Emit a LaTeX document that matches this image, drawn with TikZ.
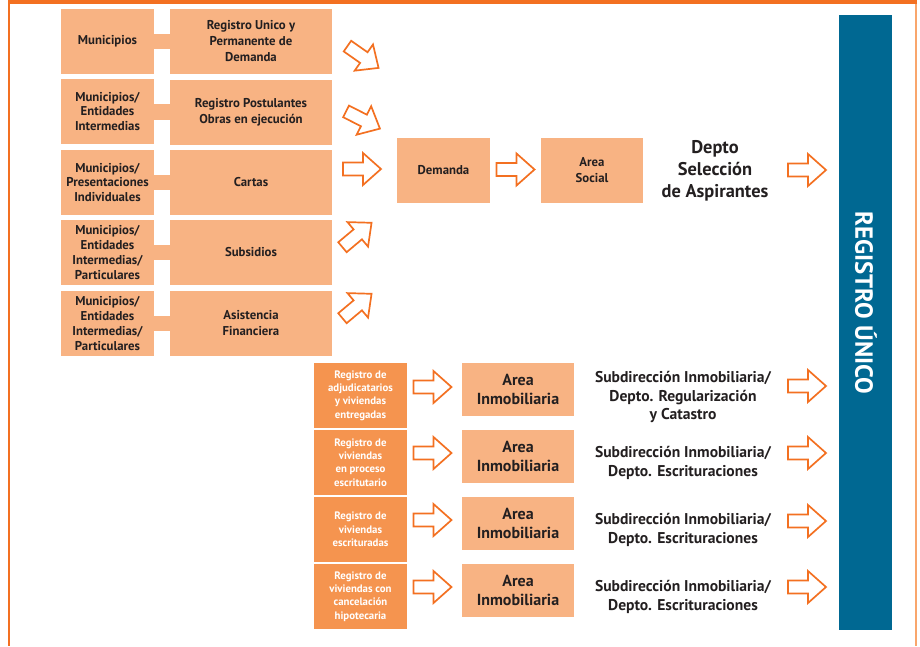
\documentclass[tikz,border=0pt]{standalone}
\usepackage{fontspec}
\setmainfont{PT Sans}
\usetikzlibrary{calc}
\definecolor{lor}{HTML}{F8B383}
\definecolor{dor}{HTML}{F5944F}
\definecolor{aor}{HTML}{F37021}
\definecolor{frr}{HTML}{F9A66C}
\definecolor{blu}{HTML}{006892}
\definecolor{txt}{HTML}{231F20}
\tikzset{
  lbox/.style={fill=lor, inner sep=0pt, align=center, text=txt,
    font=\bfseries\fontsize{12.8}{14.8}\selectfont},
  rbox/.style={lbox, font=\bfseries\fontsize{12.8}{16}\selectfont},
  dbox/.style={fill=dor, inner sep=0pt, align=center, text=white,
    font=\bfseries\fontsize{10.8}{13.3}\selectfont},
  ibox/.style={fill=lor, inner sep=0pt, align=center, text=txt,
    font=\bfseries\fontsize{16}{19}\selectfont},
  subtxt/.style={align=center, text=txt, inner sep=0pt,
    font=\bfseries\fontsize{15.6}{18.6}\selectfont},
  stub/.style={fill=lor},
  barrow/.pic={\draw[aor, line width=1.7pt, fill=white, miter limit=10]
    (-19,-6.5) -- (1,-6.5) -- (1,-16) -- (19,0) -- (1,16) -- (1,6.5) -- (-19,6.5) -- cycle;}
}
\begin{document}
\begin{tikzpicture}[x=1pt,y=-1pt]
\useasboundingbox (0,0) rectangle (920,646);
% frame
\fill[aor] (8,0) rectangle (917,4);
\fill[aor] (8,0) rectangle (9.8,646);
\fill[frr] (914.5,4) rectangle (916.5,646);
% left column
\node[lbox, minimum width=93pt, minimum height=65pt] (m1) at (107.5,41.5) {Municipios};
\node[lbox, minimum width=93pt, minimum height=65pt] (m2) at (107.5,111.5) {Municipios/\\Entidades\\Intermedias};
\node[lbox, minimum width=93pt, minimum height=65pt] (m3) at (107.5,182.5) {Municipios/\\Presentaciones\\Individuales};
\node[lbox, minimum width=93pt, minimum height=65pt] (m4) at (107.5,252.5) {Municipios/\\Entidades\\Intermedias/\\Particulares};
\node[lbox, minimum width=93pt, minimum height=65pt] (m5) at (107.5,323.5) {Municipios/\\Entidades\\Intermedias/\\Particulares};
\node[rbox, minimum width=162pt, minimum height=65pt] (r1) at (251,41.5) {Registro Unico y\\Permanente de\\Demanda};
\node[rbox, minimum width=162pt, minimum height=65pt] (r2) at (251,112) {Registro Postulantes\\Obras en ejecución};
\node[rbox, minimum width=162pt, minimum height=65pt] (r3) at (251,182.5) {Cartas};
\node[rbox, minimum width=162pt, minimum height=65pt] (r4) at (251,252.5) {Subsidios};
\node[rbox, minimum width=162pt, minimum height=65pt] (r5) at (251,323.5) {Asistencia\\Financiera};
\foreach \i in {1,...,5}{
  \fill[stub] ([yshift=7.5pt]m\i.east) rectangle ([yshift=-7.5pt]r\i.west);
}
% upper flow
\node[lbox, minimum width=93pt, minimum height=65pt] (dem) at (443.5,170.5) {Demanda};
\node[rbox, minimum width=102pt, minimum height=65pt] (soc) at (592,170.5) {Area\\Social};
\node[align=center, text=txt, inner sep=0pt, font=\bfseries\fontsize{18.4}{22}\selectfont] (dep) at (715,171) {Depto\\Selección\\de Aspirantes};
% bar
\node[fill=blu, minimum width=53pt, minimum height=615pt, inner sep=0pt] (bar) at (865.5,322.5) {};
\node[rotate=-90, text=white, inner sep=0pt, font=\bfseries\fontsize{24.8}{24.8}\selectfont] (bart) at (866,303) {REGISTRO ÚNICO};
% arrows upper
\pic[rotate=-35] at (363,57) {barrow};
\pic[rotate=-27] at (363,120) {barrow};
\pic at (362,169) {barrow};
\pic[rotate=40] at (357,235) {barrow};
\pic[rotate=40] at (357,306) {barrow};
\pic at ($(dem.east)!0.5!(soc.west)+(0,-1)$) {barrow};
\pic at (807,170) {barrow};
% lower section
\node[dbox, minimum width=93pt, minimum height=65pt] (g1) at (360.5,395.5) {Registro de\\adjudicatarios\\y viviendas\\entregadas};
\node[dbox, minimum width=93pt, minimum height=65pt] (g2) at (360.5,462.5) {Registro de\\viviendas\\en proceso\\escritutario};
\node[dbox, minimum width=93pt, minimum height=65pt] (g3) at (360.5,529.5) {Registro de\\viviendas\\escrituradas};
\node[dbox, minimum width=93pt, minimum height=65pt] (g4) at (360.5,596.5) {Registro de\\viviendas con\\cancelación\\hipotecaria};
\node[ibox, minimum width=112pt, minimum height=53pt] (a1) at (518,389.5) {Area\\Inmobiliaria};
\node[ibox, minimum width=112pt, minimum height=53pt] (a2) at (518,456.5) {Area\\Inmobiliaria};
\node[ibox, minimum width=112pt, minimum height=53pt] (a3) at (518,523.5) {Area\\Inmobiliaria};
\node[ibox, minimum width=112pt, minimum height=53pt] (a4) at (518,590.5) {Area\\Inmobiliaria};
\node[subtxt] (s1) at (683,397) {Subdirección Inmobiliaria/\\Depto. Regularización\\y Catastro};
\node[subtxt] (s2) at (683,463) {Subdirección Inmobiliaria/\\Depto. Escrituraciones};
\node[subtxt] (s3) at (683,530) {Subdirección Inmobiliaria/\\Depto. Escrituraciones};
\node[subtxt] (s4) at (683,597) {Subdirección Inmobiliaria/\\Depto. Escrituraciones};
\pic at (432.5,387) {barrow};
\pic at (432.5,453) {barrow};
\pic at (432.5,520) {barrow};
\pic at (432.5,587) {barrow};
\pic at (807,386) {barrow};
\pic at (807,453) {barrow};
\pic at (807,521) {barrow};
\pic at (807,587) {barrow};
\end{tikzpicture}
\end{document}
